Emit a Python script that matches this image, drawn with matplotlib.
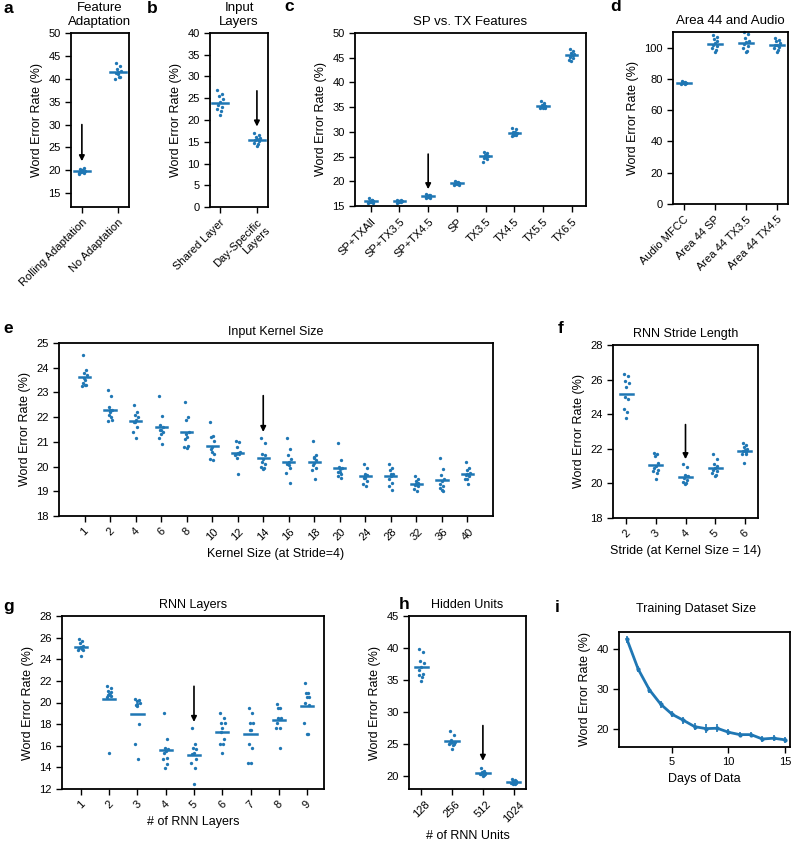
import numpy as np
import matplotlib
matplotlib.use('Agg')
import matplotlib.pyplot as plt

plt.rcParams['font.family'] = ['Liberation Sans', 'DejaVu Sans']
plt.rcParams['axes.linewidth'] = 1.3

BLUE = '#1f77b4'

# a - feature adaptation
adapt_labels = ['Rolling Adaptation', 'No Adaptation']
adapt_vals = [
    [19.4, 19.5, 19.6, 19.8, 20.0, 20.3, 20.5, 19.3, 19.7, 20.1],
    [43.5, 42.8, 42.2, 41.8, 41.5, 41.3, 40.5, 40.0, 40.3, 41.0],
]

# b - input layers
layer_labels = ['Shared Layer', 'Day-Specific\nLayers']
layer_vals = [
    [26.8, 26.0, 25.5, 24.8, 24.2, 23.5, 23.0, 22.5, 22.0, 21.2],
    [17.0, 16.6, 16.2, 15.9, 15.6, 15.4, 15.1, 14.8, 14.4, 14.0],
]

# c - SP vs TX features
feat_labels = ['SP+TXAll', 'SP+TX3.5', 'SP+TX4.5', 'SP', 'TX3.5', 'TX4.5', 'TX5.5', 'TX6.5']
feat_vals = [
    [16.6, 16.3, 16.1, 16.0, 15.9, 15.8, 15.7, 15.6, 16.2, 15.9],
    [16.3, 16.2, 16.1, 16.0, 16.0, 15.9, 15.8, 15.7, 16.1, 15.9],
    [17.4, 17.3, 17.1, 17.0, 16.9, 16.8, 16.7, 16.6, 17.2, 17.0],
    [20.0, 19.9, 19.8, 19.6, 19.5, 19.4, 19.3, 19.2, 19.7, 19.6],
    [26.0, 25.7, 25.4, 25.2, 25.0, 24.8, 24.5, 24.0, 25.3, 25.1],
    [30.8, 30.5, 30.0, 29.8, 29.6, 29.5, 29.4, 29.2, 29.9, 29.3],
    [36.2, 35.8, 35.5, 35.3, 35.2, 35.0, 34.9, 34.8, 35.4, 34.9],
    [46.8, 46.4, 46.0, 45.7, 45.5, 45.2, 44.9, 44.5, 45.6, 44.4],
]

# d - area 44 and audio
area_labels = ['Audio MFCC', 'Area 44 SP', 'Area 44 TX3.5', 'Area 44 TX4.5']
area_vals = [
    [78.5, 78.0, 77.8, 77.6, 77.5, 77.4, 77.2, 77.0, 76.8, 77.7],
    [108.0, 107.0, 105.5, 104.0, 103.0, 102.0, 101.0, 100.0, 98.5, 97.0],
    [110.0, 108.5, 106.0, 104.5, 103.5, 102.5, 101.0, 100.0, 98.0, 97.0],
    [106.0, 105.0, 104.0, 103.0, 102.0, 101.5, 100.5, 99.5, 98.5, 97.5],
]

# e - input kernel size
kernel_labels = ['1', '2', '4', '6', '8', '10', '12', '14', '16', '18', '20', '24', '28', '32', '36', '40']
kernel_vals = [
    [24.5, 23.9, 23.8, 23.7, 23.5, 23.4, 23.3, 23.25, 23.3, 23.6],
    [23.1, 22.85, 22.4, 22.3, 22.2, 22.1, 21.9, 21.85, 22.0, 22.3],
    [22.5, 22.2, 22.1, 22.0, 21.9, 21.8, 21.6, 21.4, 21.15, 21.8],
    [22.85, 22.05, 21.7, 21.6, 21.5, 21.5, 21.4, 21.15, 20.9, 21.3],
    [22.6, 22.0, 21.9, 21.4, 21.2, 21.1, 20.85, 20.8, 20.75, 21.3],
    [21.8, 21.25, 21.2, 21.05, 20.8, 20.7, 20.5, 20.3, 20.25, 20.6],
    [21.05, 21.0, 20.8, 20.6, 20.55, 20.5, 20.5, 20.45, 19.7, 20.35],
    [21.15, 20.95, 20.5, 20.45, 20.3, 20.2, 20.1, 20.0, 19.95, 19.9],
    [21.15, 20.7, 20.45, 20.3, 20.2, 20.1, 19.95, 19.75, 19.35, 20.05],
    [21.05, 20.45, 20.35, 20.25, 20.15, 20.05, 19.95, 19.85, 19.5, 20.4],
    [20.95, 20.25, 20.0, 19.95, 19.9, 19.8, 19.7, 19.6, 19.55, 19.8],
    [20.1, 19.95, 19.7, 19.65, 19.6, 19.55, 19.4, 19.3, 19.2, 19.55],
    [20.1, 19.95, 19.85, 19.7, 19.6, 19.5, 19.35, 19.2, 19.05, 19.7],
    [19.6, 19.5, 19.4, 19.35, 19.3, 19.25, 19.2, 19.1, 19.0, 19.3],
    [20.35, 19.9, 19.65, 19.5, 19.4, 19.3, 19.2, 19.15, 19.0, 19.05],
    [20.2, 19.95, 19.85, 19.75, 19.7, 19.65, 19.6, 19.5, 19.3, 19.5],
]

# f - stride
stride_labels = ['2', '3', '4', '5', '6']
stride_vals = [
    [26.3, 26.2, 25.9, 25.8, 25.6, 25.0, 24.9, 24.3, 24.1, 23.8],
    [21.75, 21.7, 21.6, 21.2, 21.0, 20.9, 20.8, 20.7, 20.6, 20.25],
    [21.1, 20.95, 20.5, 20.45, 20.4, 20.3, 20.2, 20.1, 20.0, 19.95],
    [21.7, 21.4, 21.15, 21.0, 20.9, 20.8, 20.7, 20.6, 20.5, 20.4],
    [22.35, 22.2, 22.1, 22.0, 21.95, 21.9, 21.8, 21.7, 21.7, 21.2],
]

# g - RNN layers
rnn_labels = ['1', '2', '3', '4', '5', '6', '7', '8', '9']
rnn_vals = [
    [25.85, 25.7, 25.5, 25.2, 25.1, 25.0, 24.9, 24.85, 24.95, 24.3],
    [21.5, 21.3, 21.1, 21.0, 20.8, 20.7, 20.6, 20.5, 20.7, 15.3],
    [20.3, 20.2, 20.1, 20.0, 19.9, 19.8, 18.0, 16.2, 14.8, 19.7],
    [19.0, 16.6, 15.8, 15.7, 15.5, 15.3, 14.9, 14.8, 14.3, 13.9],
    [17.6, 16.2, 15.8, 15.7, 15.3, 15.2, 14.8, 14.4, 13.9, 12.5],
    [19.0, 18.6, 18.1, 18.1, 17.6, 17.3, 16.6, 16.2, 16.2, 15.3],
    [19.5, 19.0, 18.1, 18.1, 17.5, 16.2, 15.8, 14.4, 14.4, 17.5],
    [19.9, 19.5, 19.5, 18.6, 18.5, 18.1, 17.6, 17.6, 15.8, 18.6],
    [21.8, 20.9, 20.9, 20.5, 20.5, 20.0, 19.8, 18.1, 17.1, 17.1],
]

# h - hidden units
unit_labels = ['128', '256', '512', '1024']
unit_vals = [
    [39.8, 39.4, 38.0, 37.7, 37.0, 36.5, 36.0, 35.8, 35.5, 34.8],
    [27.0, 26.5, 25.6, 25.4, 25.3, 25.2, 25.1, 25.0, 24.8, 24.3],
    [21.3, 20.8, 20.6, 20.5, 20.5, 20.4, 20.3, 20.3, 20.2, 20.1],
    [19.5, 19.4, 19.3, 19.2, 19.1, 19.0, 19.0, 18.9, 18.8, 18.8],
]

# i - training dataset size
days = [1, 2, 3, 4, 5, 6, 7, 8, 9, 10, 11, 12, 13, 14, 15]
days_wer = [42.5, 35.0, 29.8, 26.2, 23.7, 22.2, 20.6, 20.1, 20.2, 19.2, 18.6, 18.6, 17.5, 17.7, 17.3]
days_err = [0.9, 0.7, 0.8, 0.9, 0.8, 0.9, 0.9, 1.1, 1.0, 0.8, 0.6, 0.7, 0.8, 0.7, 0.8]

# fixed horizontal spread for the dots
jit = np.array([-0.07, 0.05, -0.03, 0.08, 0.0, -0.06, 0.06, -0.09, 0.03, -0.01])

W, H = 795, 849
fig = plt.figure(figsize=(W / 100, H / 100), dpi=100)

TICK = 8
LAB = 9


def box(x0, y0, x1, y1):
    return fig.add_axes([x0 / W, 1 - y1 / H, (x1 - x0) / W, (y1 - y0) / H])


def strip(ax, labels, vals, ylim, yticks, xlim, rot=45, ha='right', half=0.22):
    for i, v in enumerate(vals):
        v = np.array(v)
        ax.plot(i + jit[:len(v)], v, 'o', ms=2.4, color=BLUE, mec='none', clip_on=False)
        ax.plot([i - half, i + half], [v.mean(), v.mean()], color=BLUE, lw=1.8)
    ax.set_xticks(range(len(labels)))
    ax.set_xticklabels(labels, rotation=rot, ha=ha, rotation_mode='anchor' if ha == 'right' else 'default')
    ax.set_xlim(*xlim)
    ax.set_ylim(*ylim)
    ax.set_yticks(yticks)
    ax.set_ylabel('Word Error Rate (%)', fontsize=LAB)
    ax.tick_params(labelsize=TICK, length=4, width=1)


def arrow(ax, x, y0, y1):
    ax.annotate('', xy=(x, y1), xytext=(x, y0),
                arrowprops=dict(arrowstyle='-|>', color='k', lw=1.2, mutation_scale=8, shrinkA=0, shrinkB=0))


ax = box(71, 33, 129, 207)
strip(ax, adapt_labels, adapt_vals, (12, 50), range(15, 51, 5), (-0.3, 1.3))
ax.set_title('Feature\nAdaptation', fontsize=LAB + 0.5)
arrow(ax, 0, 30, 22)

ax = box(210, 33, 268, 207)
strip(ax, layer_labels, layer_vals, (0, 40), range(0, 41, 5), (-0.27, 1.3))
ax.set_title('Input\nLayers', fontsize=LAB + 0.5)
arrow(ax, 1, 26.7, 18.5)

ax = box(355, 33, 586, 206)
strip(ax, feat_labels, feat_vals, (15, 50), range(15, 51, 5), (-0.55, 7.5), half=0.2)
ax.set_title('SP vs. TX Features', fontsize=LAB + 0.5)
arrow(ax, 2, 25.5, 18.4)

ax = box(673, 32, 788, 204)
strip(ax, area_labels, area_vals, (0, 110), range(0, 101, 20), (-0.35, 3.35))
ax.set_title('Area 44 and Audio', fontsize=LAB + 0.5)

ax = box(59, 343, 493, 516)
strip(ax, kernel_labels, kernel_vals, (18, 25), range(18, 26), (-1, 16), ha='center')
ax.set_title('Input Kernel Size', fontsize=LAB)
ax.set_xlabel('Kernel Size (at Stride=4)', fontsize=LAB)
arrow(ax, 7, 22.87, 21.4)

ax = box(613, 345, 758, 518)
strip(ax, stride_labels, stride_vals, (18, 28), range(18, 29, 2), (-0.45, 4.45), ha='center')
ax.set_title('RNN Stride Length', fontsize=LAB)
ax.set_xlabel('Stride (at Kernel Size = 14)', fontsize=LAB)
arrow(ax, 2, 23.4, 21.4)

ax = box(62, 616, 324, 789)
strip(ax, rnn_labels, rnn_vals, (12, 28), range(12, 29, 2), (-0.67, 8.6), ha='center')
ax.set_title('RNN Layers', fontsize=LAB)
ax.set_xlabel('# of RNN Layers', fontsize=LAB)
arrow(ax, 4, 21.5, 18.2)

ax = box(409, 616, 526, 789)
strip(ax, unit_labels, unit_vals, (18, 45), range(20, 46, 5), (-0.4, 3.4), ha='center')
ax.set_title('Hidden Units', fontsize=LAB)
ax.set_xlabel('# of RNN Units', fontsize=LAB)
arrow(ax, 2, 27.9, 22.4)

ax = box(619, 632, 790, 747)
ax.errorbar(days, days_wer, yerr=days_err, color=BLUE, lw=2, marker='o', ms=2, elinewidth=1.2, capsize=0)
ax.set_xlim(0.3, 15.45)
ax.set_ylim(15.5, 44.3)
ax.set_xticks([5, 10, 15])
ax.set_yticks([20, 30, 40])
ax.set_ylabel('Word Error Rate (%)', fontsize=LAB)
ax.set_xlabel('Days of Data', fontsize=LAB)
ax.tick_params(labelsize=TICK, length=4, width=1)
fig.text(696 / W, 1 - 603 / H, 'Training Dataset Size', fontsize=LAB, ha='center', va='top')

for lab, x, y in [('a', 4, 1), ('b', 147, 1), ('c', 284, -1), ('d', 610, -1), ('e', 3, 321),
                  ('f', 558, 321), ('g', 3, 599), ('h', 399, 597), ('i', 555, 600)]:
    fig.text(x / W, 1 - y / H, lab, fontsize=12.5, fontweight='bold', ha='left', va='top')

fig.savefig('out.png', dpi=100)
